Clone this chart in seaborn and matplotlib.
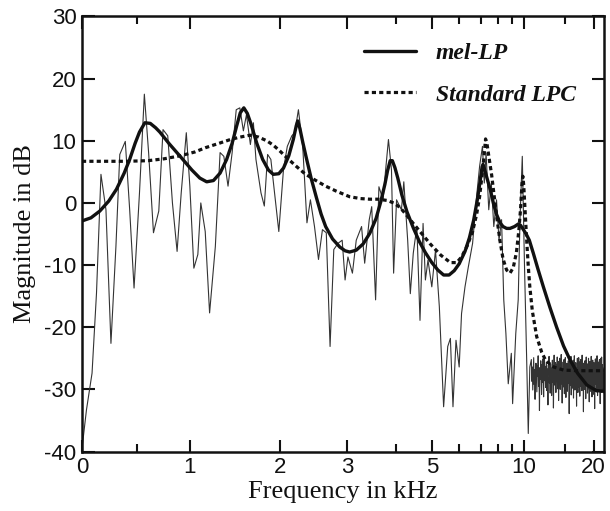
import numpy as np
import pandas as pd
import matplotlib
matplotlib.use('Agg')
import matplotlib.pyplot as plt
import seaborn as sns

# warped (all-pass) frequency axis, fs = 44.1 kHz
FS = 44.1
ALPHA = 0.65

# fine FFT spectrum (kHz, dB)
fft_khz = [0, 0.04, 0.09, 0.13, 0.17, 0.215, 0.26, 0.305, 0.34, 0.39,
           0.43, 0.47, 0.52, 0.565, 0.605, 0.65, 0.70, 0.74, 0.785, 0.83,
           0.875, 0.915, 0.965, 1.0, 1.04, 1.08, 1.11, 1.155, 1.2, 1.26,
           1.31, 1.35, 1.395, 1.44, 1.485, 1.525, 1.565, 1.6, 1.645, 1.68,
           1.71, 1.77, 1.81, 1.85, 1.89, 1.94, 1.99, 2.05, 2.1, 2.16,
           2.2, 2.25, 2.31, 2.37, 2.42, 2.48, 2.54, 2.6, 2.66, 2.72,
           2.78, 2.85, 2.92, 2.97, 3.02, 3.1, 3.17, 3.27, 3.33, 3.42,
           3.47, 3.55, 3.62, 3.71, 3.76, 3.83, 3.9, 3.95, 4.02, 4.14,
           4.2, 4.3, 4.37, 4.45, 4.55, 4.64, 4.73, 4.8, 4.88, 5.0,
           5.12, 5.25, 5.4, 5.55, 5.65, 5.75, 5.87, 6.0, 6.1, 6.25,
           6.4, 6.6, 6.78, 6.95, 7.1, 7.2, 7.3, 7.45, 7.6, 7.75,
           7.92, 8.08, 8.25, 8.4, 8.55, 8.72, 8.95, 9.05, 9.3, 9.5,
           9.65, 9.85, 10.05, 10.25, 10.4, 10.55]
fft_db = [-39.5, -33.3, -27.4, -14.5, 4.6, -1.1, -22.6, -7.0, 7.8, 9.9,
          -1.1, -13.7, 1.6, 17.5, 8.0, -4.8, -1.3, 11.8, 10.8, 0.0,
          -7.8, 1.6, 11.3, 2.7, -10.5, -8.3, 0.0, -4.6, -17.7, -7.0,
          8.1, 7.5, 2.7, 8.1, 15.0, 15.3, 11.6, 14.2, 9.4, 12.9,
          7.0, 1.6, -0.5, 7.8, 7.0, 1.1, -4.6, 5.4, 9.1, 10.8,
          11.3, 15.0, 9.1, -3.2, 0.5, -3.8, -9.1, -4.3, -4.8, -23.1,
          -7.5, -6.5, -6.0, -12.4, -8.7, -11.3, -6.0, -3.8, -9.7, -2.7,
          -0.6, -15.6, 2.6, 0.5, 4.8, 10.2, 5.3, -11.3, 0.5, -1.1,
          3.4, -6.0, -14.6, -8.1, -3.8, -18.9, -3.3, -12.4, -9.2, -13.5,
          -7.6, -16.7, -32.8, -23.1, -21.8, -32.8, -22.1, -26.4, -17.8, -13.5,
          -10.3, -6.5, 0.5, 5.9, 9.1, 3.2, 8.0, -1.1, 3.2, -3.8,
          0.5, -6.0, -2.7, -15.6, -21.0, -29.1, -24.2, -32.3, -21.0, -15.6,
          -2.7, 7.5, -10.3, -25.3, -37.1, -26.4]

# noise floor above ~10.6 kHz (FFT bins up to Nyquist)
tail_db = [-25.2, -28.7, -26.4, -30.1, -27.3, -24.9, -29.2, -26.8, -31.6, -27.5,
           -25.8, -28.1, -30.4, -26.2, -27.9, -24.6, -29.5, -27.1, -33.4, -26.5,
           -28.4, -25.4, -27.7, -30.8, -26.0, -28.9, -25.1, -27.4, -31.2, -26.9,
           -24.8, -28.6, -26.3, -29.7, -27.8, -25.6, -30.2, -26.7, -28.3, -32.5,
           -26.1, -27.5, -24.7, -29.0, -27.2, -30.6, -25.9, -28.2, -26.6, -31.0,
           -27.6, -25.3, -28.8, -26.4, -33.0, -27.0, -24.5, -29.3, -26.9, -28.0,
           -25.7, -30.5, -27.3, -26.1, -28.7, -24.8, -29.9, -27.8, -25.5, -31.8,
           -26.6, -28.4, -25.0, -27.9, -30.0, -26.2, -28.6, -24.4, -29.1, -27.2,
           -32.2, -26.8, -28.0, -25.6, -29.6, -27.4, -25.2, -30.7, -26.5, -28.3,
           -24.9, -27.7, -31.3, -26.0, -28.9, -25.8, -27.1, -30.3, -26.7, -29.0,
           -25.4, -28.5, -26.3, -33.9, -27.6, -25.1, -29.4, -26.9, -28.1, -24.7,
           -30.9, -27.0, -25.9, -28.8, -26.4, -29.8, -27.5, -25.3, -31.4, -26.8,
           -28.2, -24.6, -27.9, -30.1, -26.1, -28.6, -25.7, -29.2, -27.3, -32.7,
           -26.5, -28.0, -25.0, -27.8, -30.5, -26.3, -28.4, -24.9, -29.7, -27.1,
           -25.6, -31.1, -27.4, -26.0, -28.9, -25.2, -29.5, -27.7, -26.6, -30.2,
           -24.5, -28.3, -26.7, -29.1, -27.2, -33.6, -25.8, -28.7, -26.2, -30.0,
           -27.5, -25.4, -28.1, -26.9, -31.5, -27.0, -24.8, -29.3, -26.4, -28.6,
           -25.9, -30.6, -27.6, -26.1, -28.8, -25.0, -29.9, -27.3, -32.0, -26.7,
           -28.2, -25.5, -27.8, -30.3, -26.3, -28.5, -24.7, -29.0, -27.1, -31.2,
           -26.8, -28.0, -25.3, -27.5, -30.8, -26.0, -28.9, -25.7, -29.6, -27.4,
           -33.1, -26.5, -28.4, -25.1, -29.2, -27.2, -25.8, -30.4, -26.6, -28.1,
           -24.6, -27.9, -31.0, -26.2, -28.7, -25.6, -27.0, -30.1, -26.9, -29.4,
           -25.2, -28.6, -26.4, -32.3, -27.7, -25.0, -29.1, -26.8, -28.3, -24.8,
           -30.5, -27.1, -26.0, -28.9, -26.5, -29.7, -27.4, -28.2, -29.8, -30.6]
tail_khz = np.linspace(10.7, FS / 2, len(tail_db))  # bin grid

# mel-LP envelope
mel_khz = [0, 0.08, 0.16, 0.24, 0.31, 0.38, 0.43, 0.48, 0.52, 0.57,
           0.62, 0.67, 0.71, 0.8, 0.91, 1.02, 1.1, 1.17, 1.24, 1.31,
           1.38, 1.44, 1.49, 1.53, 1.57, 1.61, 1.65, 1.72, 1.79, 1.86,
           1.92, 1.99, 2.05, 2.12, 2.18, 2.22, 2.24, 2.27, 2.31, 2.36,
           2.43, 2.51, 2.58, 2.65, 2.76, 2.88, 2.97, 3.05, 3.17, 3.3,
           3.43, 3.56, 3.66, 3.75, 3.81, 3.87, 3.92, 3.98, 4.05, 4.15,
           4.28, 4.45, 4.62, 4.8, 5.0, 5.2, 5.4, 5.6, 5.8, 6.0,
           6.25, 6.45, 6.65, 6.85, 6.98, 7.08, 7.13, 7.2, 7.35, 7.55,
           7.75, 7.93, 8.15, 8.35, 8.6, 8.85, 9.2, 9.5, 9.7, 9.95,
           10.2, 10.5, 10.9, 11.4, 12.0, 12.8, 13.7, 14.7, 15.7, 17.0,
           18.7, 20.5, 22.05]
mel_db = [-2.9, -2.4, -1.3, 0.3, 2.2, 4.8, 7.0, 9.6, 11.4, 12.9,
          12.8, 12.1, 11.4, 9.5, 7.4, 5.3, 4.0, 3.4, 3.6, 4.8,
          7.0, 9.6, 12.4, 14.5, 15.3, 14.4, 12.8, 9.6, 7.0, 5.3,
          4.6, 4.7, 5.6, 7.6, 10.2, 12.4, 13.2, 12.0, 9.8, 7.3,
          4.0, 0.8, -1.8, -3.8, -5.8, -7.1, -7.7, -7.9, -7.6, -6.6,
          -4.9, -2.5, 0.2, 3.0, 5.2, 6.8, 6.8, 5.7, 4.0, 1.3,
          -1.4, -4.0, -6.2, -8.0, -9.6, -10.8, -11.6, -11.6, -10.9, -9.8,
          -7.8, -5.6, -2.8, 0.8, 3.6, 5.8, 6.2, 5.6, 4.0, 2.0,
          -0.3, -1.9, -3.2, -3.8, -4.1, -4.1, -3.8, -3.4, -3.6, -4.3,
          -5.0, -6.0, -8.1, -10.7, -13.5, -16.8, -20.0, -23.0, -25.2, -27.4,
          -29.3, -30.2, -30.3]

# standard LPC envelope
lpc_khz = [0, 0.2, 0.4, 0.6, 0.75, 0.91, 1.05, 1.16, 1.3, 1.42,
           1.53, 1.64, 1.74, 1.84, 1.92, 2.0, 2.1, 2.22, 2.34, 2.47,
           2.65, 2.82, 3.05, 3.25, 3.43, 3.6, 3.8, 3.95, 4.1, 4.25,
           4.45, 4.7, 4.95, 5.3, 5.65, 5.9, 6.1, 6.35, 6.6, 6.8,
           6.95, 7.08, 7.2, 7.27, 7.35, 7.45, 7.62, 7.78, 7.93, 8.15,
           8.35, 8.6, 8.85, 9.1, 9.35, 9.55, 9.7, 9.82, 9.9, 9.98,
           10.1, 10.25, 10.4, 10.55, 10.8, 11.25, 11.8, 12.3, 13.3, 14.7,
           17.0, 22.05]
lpc_db = [6.7, 6.7, 6.7, 6.8, 7.1, 7.6, 8.2, 8.9, 9.6, 10.2,
          10.6, 10.9, 10.6, 10.0, 9.3, 8.4, 7.2, 5.9, 4.7, 3.8,
          2.7, 1.9, 1.0, 0.7, 0.6, 0.6, 0.4, 0.0, -0.7, -1.8,
          -3.3, -5.0, -6.6, -8.4, -9.6, -9.6, -8.7, -6.9, -4.6, -1.8,
          1.0, 4.5, 8.0, 10.3, 9.5, 7.6, 4.5, 1.0, -2.2, -6.2,
          -9.0, -10.8, -11.3, -10.4, -8.0, -4.5, -1.0, 3.0, 4.3, 2.8,
          -1.2, -6.0, -10.2, -13.5, -17.4, -21.5, -24.0, -25.4, -26.4, -26.9,
          -27.0, -27.0]

major_khz = [0, 1, 2, 3, 5, 10, 20]
minor_khz = [0.5, 4, 6, 7, 8, 9, 15]


def warp(f, a=ALPHA):
    w = 2 * np.pi * np.asarray(f, dtype=float) / FS
    wt = w + 2 * np.arctan(a * np.sin(w) / (1 - a * np.cos(w)))
    return wt / np.pi * FS / 2


def unwarp(f):
    return warp(f, -ALPHA)


sns.set_style('ticks')
plt.rcParams['font.family'] = ['Liberation Sans', 'DejaVu Sans']
plt.rcParams['axes.unicode_minus'] = False

fine = pd.DataFrame({'khz': list(fft_khz) + list(tail_khz),
                     'db': list(fft_db) + list(tail_db)})
mel = pd.DataFrame({'khz': mel_khz, 'db': mel_db})
lpc = pd.DataFrame({'khz': lpc_khz, 'db': lpc_db})

fig = plt.figure(figsize=(6.1, 5.11), dpi=100)
ax = fig.add_axes([82 / 610, 1 - 451.5 / 511, 522 / 610, 435 / 511])

sns.lineplot(data=fine, x='khz', y='db', ax=ax, sort=False, estimator=None,
             color='#333333', linewidth=0.8)
sns.lineplot(data=mel, x='khz', y='db', ax=ax, sort=False, estimator=None,
             color='#111111', linewidth=2.4, label='mel-LP')
sns.lineplot(data=lpc, x='khz', y='db', ax=ax, sort=False, estimator=None,
             color='#111111', linewidth=2.3, linestyle=(0, (1.3, 1.0)),
             label='Standard LPC')

ax.set_xscale('function', functions=(warp, unwarp))
ax.set_xlim(0, FS / 2)
ax.set_ylim(-40, 30)
ax.set_xticks(major_khz)
ax.set_xticklabels([str(v) for v in major_khz])
ax.set_xticks(minor_khz, minor=True)
ax.set_yticks(range(-40, 31, 10))
ax.tick_params(which='both', direction='in', top=True, right=True,
               width=1.5, labelsize=16, color='#111111', labelcolor='#111111')
ax.tick_params(which='major', length=9, pad=4)
ax.tick_params(which='minor', length=6)
for sp in ax.spines.values():
    sp.set_linewidth(1.8)
    sp.set_color('#111111')

ax.set_xlabel('Frequency in kHz', family=['Liberation Serif'], fontsize=19,
              color='#111111', labelpad=2)
ax.set_ylabel('Magnitude in dB', family=['Liberation Serif'], fontsize=19,
              color='#111111', labelpad=6)

leg = ax.legend(loc='upper left', bbox_to_anchor=(0.54, 0.94), frameon=False,
                borderpad=0, borderaxespad=0, handlelength=2.2,
                handletextpad=0.85, labelspacing=0.85,
                prop={'family': 'Liberation Serif', 'style': 'italic',
                      'weight': 'bold', 'size': 17})
for t in leg.get_texts():
    t.set_color('#111111')

fig.savefig('out.png', dpi=100)
